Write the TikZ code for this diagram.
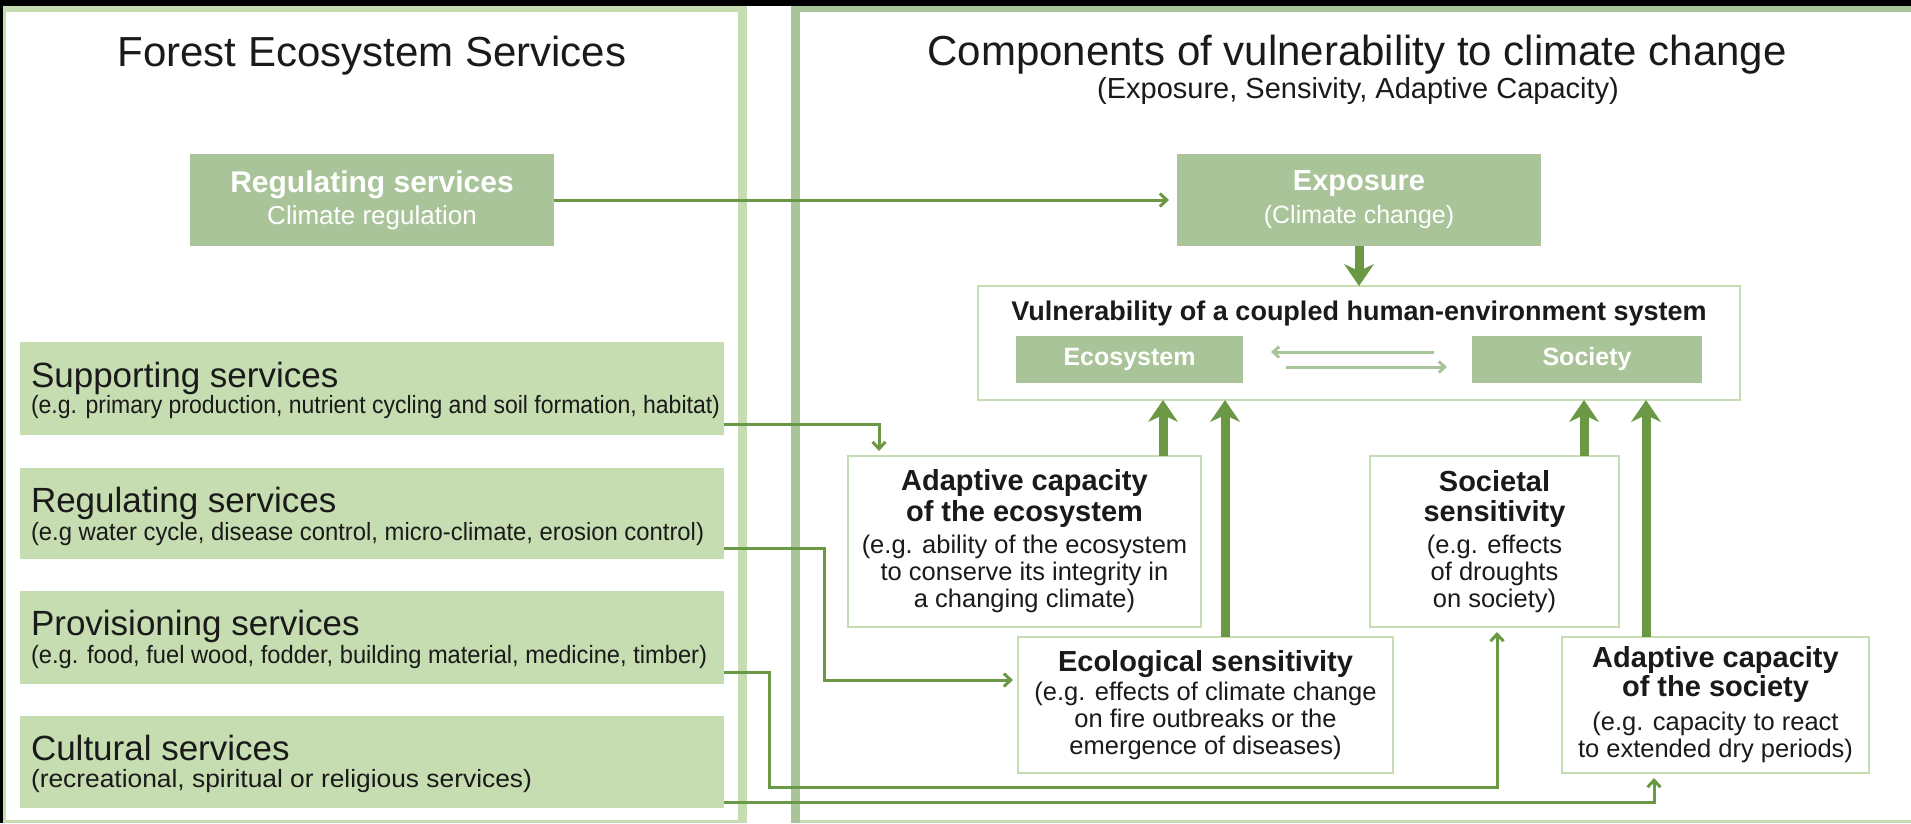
\documentclass[tikz,border=0pt]{standalone}
\usepackage{fontspec}
\setmainfont{Liberation Sans}
\usepackage{graphicx}
\usetikzlibrary{arrows.meta,calc}

\definecolor{paleGreen}{HTML}{C5DDB0}
\definecolor{sageGreen}{HTML}{AAC49A}
\definecolor{leafGreen}{HTML}{6A9844}
\definecolor{inkText}{HTML}{1A1A1A}

% font size helper: size and baseline skip in pt
\newcommand{\setfs}[2]{\fontsize{#1}{#2}\selectfont}
% squeeze or stretch a line horizontally to a given width
\newcommand{\hfitto}[2]{\resizebox{#1}{\height}{#2}}
% bold heading line inside the white boxes
\newcommand{\boxhead}[1]{{\bfseries\setfs{29}{30}#1}}

\begin{document}
\begin{tikzpicture}[x=1pt,y=-1pt,
  every node/.style={inner sep=0pt, outer sep=0pt, text=inkText},
  darkbox/.style={fill=sageGreen, text=white, align=center},
  palebox/.style={fill=paleGreen},
  whitebox/.style={draw=paleGreen, line width=2.5pt, fill=white, align=center, font=\setfs{25.5}{27}},
  heading/.style={font=\setfs{42}{48}},
  boxtitle/.style={font=\setfs{35}{40}},
  boxsub/.style={font=\setfs{25}{28}},
  wire/.style={draw=leafGreen, line width=3pt, -{Straight Barb[length=7pt,width=13pt]}},
  bigarrow/.style={draw=leafGreen, line width=9pt, -{Stealth[length=22pt,width=30pt,inset=7pt,line width=0pt]}},
  swaparrow/.style={draw=sageGreen, line width=3pt, -{Straight Barb[length=6pt,width=11pt]}},
]
\useasboundingbox (0,0) rectangle (1911,823);

% page background and the two panel frames
\fill[black] (0,0) rectangle (1911,823);
\fill[white] (3,6) rectangle (1911,823);
\fill[paleGreen] (3,6) rectangle (747,823);
\fill[white] (6,12) rectangle (738,820);
\fill[sageGreen] (791,6) rectangle (1911,823);
\fill[white] (800,12) rectangle (1911,820);
\fill[paleGreen] (800,820) rectangle (1911,823);

% panel headings
\node[heading, anchor=base] (ltitle) at (372,66) {Forest Ecosystem Services};
\node[heading, anchor=base] (rtitle) at (1357,65) {Components of vulnerability to climate change};
\node[font=\setfs{29}{32}, anchor=base] (rsub) at (1358,98) {(Exposure, Sensivity, Adaptive Capacity)};

% climate regulation and exposure
\node[darkbox, font=\setfs{26}{32}, minimum width=364pt, minimum height=92pt] (regtop) at (372,200)
  {{\bfseries\setfs{30}{32}Regulating services}\\Climate regulation};
\node[darkbox, font=\setfs{25}{33}, minimum width=364pt, minimum height=92pt] (expo) at (1359,200)
  {{\bfseries\setfs{29}{33}Exposure}\\(Climate change)};

% coupled system
\node[whitebox, minimum width=762pt, minimum height=114pt] (vuln) at (1359,343) {};
\node[font=\bfseries\setfs{27}{30}, anchor=base] (vulnt) at ([yshift=-34pt]vuln.north)
  {Vulnerability of a coupled human-environment system};
\node[darkbox, font=\bfseries\setfs{25}{28}, minimum width=227pt, minimum height=47pt] (eco) at (1129.5,359.5) {Ecosystem};
\node[darkbox, font=\bfseries\setfs{25}{28}, minimum width=230pt, minimum height=47pt] (soc) at (1587,359.5) {Society};

% components
\node[whitebox, minimum width=353pt, minimum height=171pt] (adapteco) at (1024.5,541.5)
  {\boxhead{Adaptive capacity}\\[3pt]\boxhead{of the ecosystem}\\[5pt](e.g. ability of the ecosystem\\to conserve its integrity in\\a changing climate)};
\node[whitebox, minimum width=249pt, minimum height=171pt] (socsens) at (1494.5,541.5)
  {\boxhead{Societal}\\[3pt]\boxhead{sensitivity}\\[5pt](e.g. effects\\of droughts\\on society)};
\node[whitebox, minimum width=375pt, minimum height=136pt] (ecosens) at (1205.5,705)
  {\boxhead{Ecological sensitivity}\\[2pt](e.g. effects of climate change\\on fire outbreaks or the\\emergence of diseases)};
\node[whitebox, minimum width=307pt, minimum height=136pt] (adaptsoc) at (1715.5,705)
  {\boxhead{Adaptive capacity}\\[1pt]\boxhead{of the society}\\[7pt](e.g. capacity to react\\to extended dry periods)};

% forest ecosystem services
\node[palebox, minimum width=704pt, minimum height=93pt] (supp) at (372,388.5) {};
\node[boxtitle, anchor=base west] (suppt) at ([xshift=11pt,yshift=-45pt]supp.north west) {Supporting services};
\node[boxsub, anchor=base west] (supps) at ([xshift=11pt,yshift=-71pt]supp.north west)
  {\hfitto{689pt}{(e.g. primary production, nutrient cycling and soil formation, habitat)}};

\node[palebox, minimum width=704pt, minimum height=91pt] (regl) at (372,513.5) {};
\node[boxtitle, anchor=base west] (reglt) at ([xshift=11pt,yshift=-44pt]regl.north west) {Regulating services};
\node[boxsub, anchor=base west] (regls) at ([xshift=11pt,yshift=-72pt]regl.north west)
  {\hfitto{673pt}{(e.g water cycle, disease control, micro-climate, erosion control)}};

\node[palebox, minimum width=704pt, minimum height=93pt] (prov) at (372,637.5) {};
\node[boxtitle, anchor=base west] (provt) at ([xshift=11pt,yshift=-44pt]prov.north west) {Provisioning services};
\node[boxsub, anchor=base west] (provs) at ([xshift=11pt,yshift=-72pt]prov.north west)
  {\hfitto{676pt}{(e.g. food, fuel wood, fodder, building material, medicine, timber)}};

\node[palebox, minimum width=704pt, minimum height=92pt] (cult) at (372,762) {};
\node[boxtitle, anchor=base west] (cultt) at ([xshift=11pt,yshift=-44pt]cult.north west) {Cultural services};
\node[boxsub, anchor=base west] (cults) at ([xshift=11pt,yshift=-71pt]cult.north west)
  {\hfitto{501pt}{(recreational, spiritual or religious services)}};

% thin connectors from the services
\draw[wire, shorten >=8pt] (regtop.east) -- (expo.west);
\draw[wire] ([yshift=-35.5pt]supp.east) -| ([xshift=31pt,yshift=5pt]adapteco.north west);
\draw[wire] ([yshift=-34.5pt]regl.east) -- ++(100,0) |- ([xshift=-5pt,yshift=-43pt]ecosens.north west);
\draw[wire] ([yshift=-34.5pt]prov.east) -- ++(45,0) -- ++(0,115) -| ([xshift=2.5pt,yshift=-5pt]socsens.south);
\draw[wire] ([yshift=-40pt]cult.east) -| ([xshift=-61.5pt,yshift=-5pt]adaptsoc.south);

% thick arrows into the coupled system
\draw[bigarrow] (expo.south) -- (vuln.north);
\draw[bigarrow] ([xshift=138.5pt]adapteco.north) -- ([xshift=-196pt]vuln.south);
\draw[bigarrow] ([xshift=19.5pt]ecosens.north) -- ([xshift=-134pt]vuln.south);
\draw[bigarrow] ([xshift=89.5pt]socsens.north) -- ([xshift=225pt]vuln.south);
\draw[bigarrow] ([xshift=-69.5pt]adaptsoc.north) -- ([xshift=287pt]vuln.south);

% exchange between ecosystem and society
\draw[swaparrow] ([xshift=-38pt,yshift=7.5pt]soc.west) -- ([xshift=28pt,yshift=7.5pt]eco.east);
\draw[swaparrow] ([xshift=43pt,yshift=-7.5pt]eco.east) -- ([xshift=-25pt,yshift=-7.5pt]soc.west);
\end{tikzpicture}
\end{document}
